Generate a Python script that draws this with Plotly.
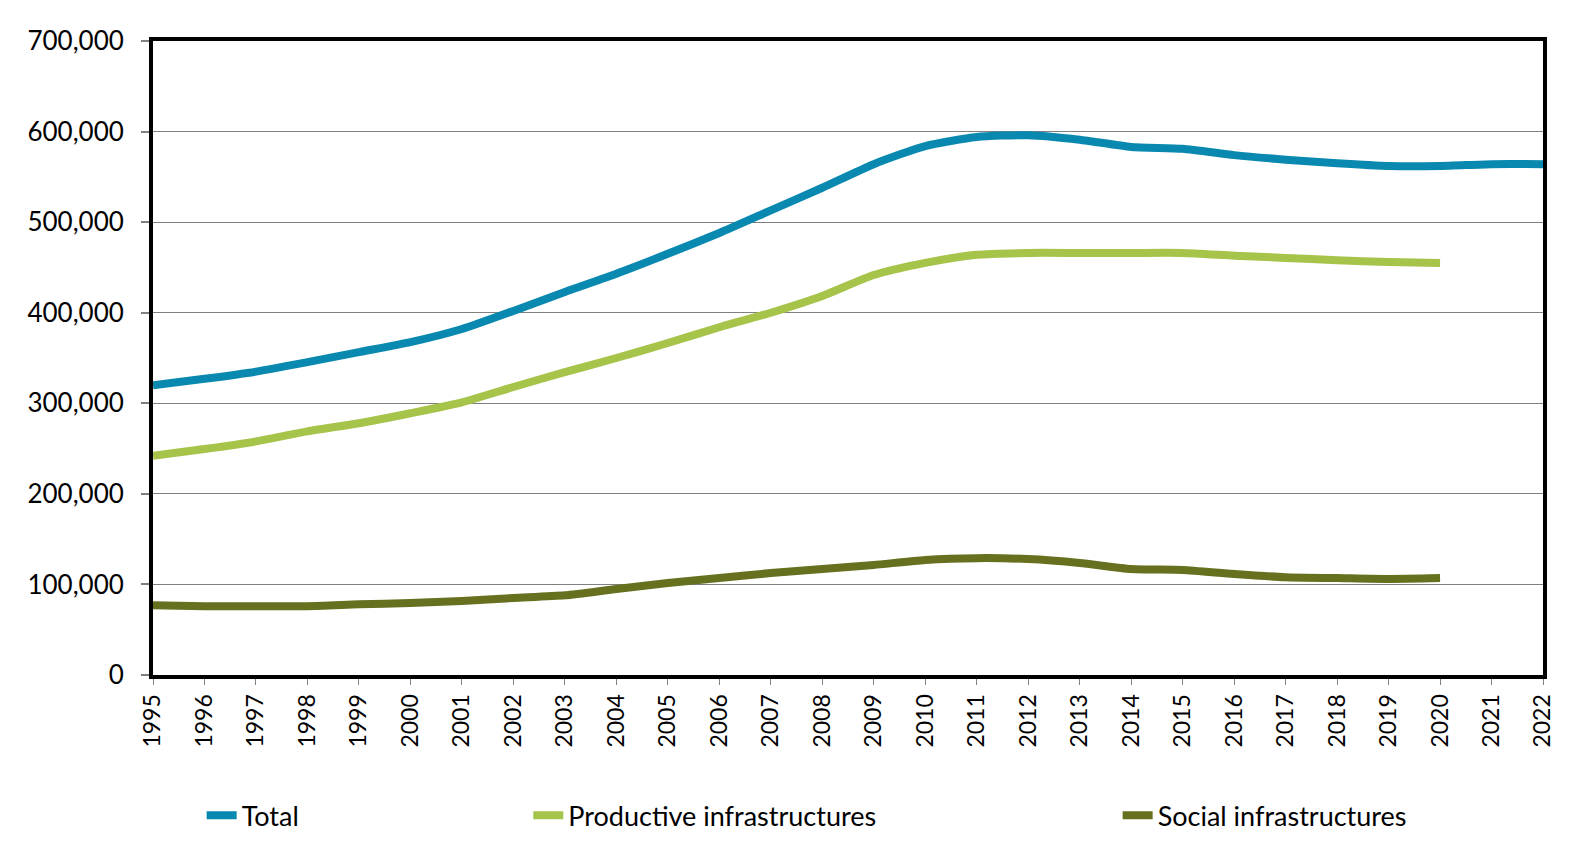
import plotly.graph_objects as go

years = [str(y) for y in range(1995, 2023)]
total = [320000, 327000, 335000, 345500, 356500, 367500, 382000, 402000, 423000, 443000,
         465000, 488000, 513000, 538000, 564000, 584000, 594000, 596000, 591000, 583000,
         581000, 574000, 569000, 565000, 562000, 562000, 564000, 564000]
productive = [242000, 249500, 258000, 269000, 278000, 289000, 301000, 318000, 334500, 350000,
              366600, 384000, 400000, 418500, 441600, 455000, 464000, 466000, 466000, 466000,
              466000, 463000, 460500, 458000, 456000, 455000]
social = [77000, 76000, 76000, 76000, 78000, 79500, 81700, 85000, 88000, 95000,
          101600, 107000, 112600, 117000, 121500, 127000, 129000, 128000, 123700, 117000,
          116000, 111500, 108000, 107000, 106000, 107000]

series = [
    ("Total", total, "#0A89B0", "legend"),
    ("Productive infrastructures", productive, "#A6C34A", "legend2"),
    ("Social infrastructures", social, "#66701F", "legend3"),
]

fig = go.Figure()
for name, vals, color, lg in series:
    fig.add_trace(go.Scatter(
        x=years[:len(vals)], y=vals, name=name, mode="lines",
        line=dict(color=color, width=8, shape="spline", smoothing=0.6),
        legend=lg, showlegend=True,
    ))

font_family = "Lato, 'Open Sans', sans-serif"
leg_common = dict(orientation="h", yanchor="middle", y=-0.222, xanchor="left",
                  font=dict(size=27, color="#000000", family=font_family),
                  bgcolor="rgba(0,0,0,0)", itemwidth=30, visible=True)

fig.update_layout(
    width=1571, height=859,
    showlegend=True,
    margin=dict(l=153, r=28, t=41, b=184),
    paper_bgcolor="white", plot_bgcolor="white",
    font=dict(family=font_family, color="#000000"),
    xaxis=dict(
        type="category", range=[0, 27],
        tickangle=-90, tickfont=dict(size=23),
        showgrid=False, showline=True, linecolor="#000000", linewidth=4, mirror=True,
        ticks="outside", ticklen=6, tickcolor="#808080", tickwidth=1,
    ),
    yaxis=dict(
        range=[0, 700000], tickvals=[0, 100000, 200000, 300000, 400000, 500000, 600000, 700000],
        ticktext=["0", "100,000", "200,000", "300,000", "400,000", "500,000", "600,000", "700,000"],
        tickfont=dict(size=26),
        showgrid=True, gridcolor="#808080", gridwidth=1,
        showline=True, linecolor="#000000", linewidth=4, mirror=True,
        ticks="outside", ticklen=8, tickcolor="#808080", tickwidth=2,
        ticklabelstandoff=12,
        zeroline=False,
    ),
    legend=dict(x=0.035, **leg_common),
    legend2=dict(x=0.27, **leg_common),
    legend3=dict(x=0.694, **leg_common),
)

fig.write_html("out.html")
